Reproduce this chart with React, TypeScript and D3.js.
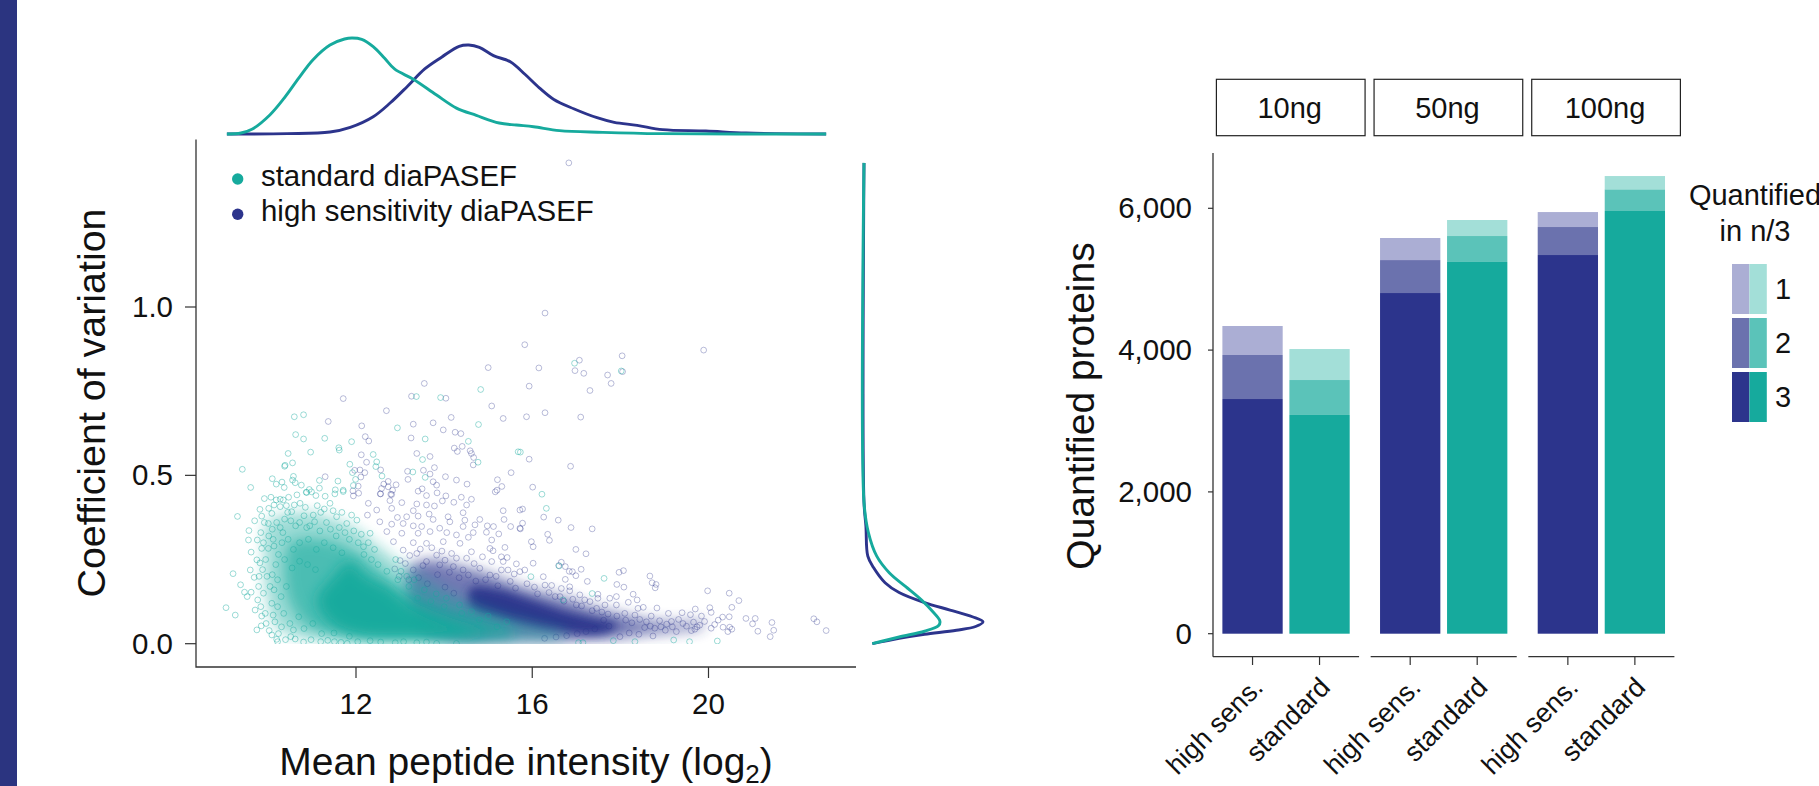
import React from "react";
import * as d3 from "d3";

// Colours
const BLUE = "#2c348c", BLUE2 = "#6b72ae", BLUE1 = "#abaed4";
const TEAL = "#16aa9d", TEAL2 = "#5bc3b9", TEAL1 = "#a3dfd8";
const FONT = "'Liberation Sans', Arial, sans-serif";

// Scatter: circles individually readable in the reference, estimated by eye as [log2 intensity, CV].
// This is a hand-read subset; the saturated core is described by the outlines further down.
const bluePoints: [number, number][] = [
[16.83,1.428],[15,.82],[13.55,.773],[11.71,.728],[13.26,.735],[14.04,.729],[15.08,.706],[12.69,.692],[14.16,.672],[15.34,.669],[11.37,.66],[12.13,.647],[13.3,.652],[13.75,.656],[13.98,.635],[14.25,.628],[14.38,.624],[13.25,.611],[12.21,.615],[12.29,.602],[14.23,.581],[14.3,.571],[14.41,.586],[14.59,.573],[14.62,.565],[14.67,.553],[14.66,.531],[12.12,.561],[13.38,.565],[13.68,.556],[12.24,.539],[13.78,.523],[13.53,.515],[13.17,.512],[13.68,.504],[15.52,.508],[12.56,.516],[12.09,.516],[11.97,.515],[12.2,.508],[12.11,.495],[11.3,.496],[14.03,.496],[13.18,.488],[14.28,.486],[15.21,.487],[14.52,.474],[13.75,.481],[13.83,.471],[15.31,.467],[15.2,.456],[15.16,.451],[12.73,.482],[12.63,.474],[12.91,.472],[12.58,.461],[12.73,.466],[13.41,.453],[13.84,.448],[12.83,.456],[12.05,.468],[11.93,.454],[12.06,.447],[12.79,.444],[12.56,.445],[14.04,.439],[13.6,.44],[14.39,.435],[11.94,.439],[13.5,.46],
[16.29,.982],[15.83,.888],[19.89,.872],[18.04,.855],[17.07,.842],[16.97,.811],[17.17,.803],[16.15,.819],[17.71,.798],[17.79,.773],[17.31,.752],[15.93,.765],[18.05,.808],[15.87,.674],[16.29,.686],[17.1,.673],[15.93,.548],[16.87,.527],[16.01,.465],
[12.55,.445],[12.81,.443],[14.62,.429],[14.22,.42],[13.96,.424],[14.51,.412],[13.78,.409],[13.6,.412],[13.38,.415],[13.04,.419],[12.77,.425],[12.47,.397],[12.28,.417],[12.81,.402],[13.3,.395],[15.34,.395],[14.43,.389],[13.66,.385],[14.09,.377],[13.41,.379],[13.15,.377],[12.94,.375],[12.26,.382],[15.36,.369],[14.81,.369],[14.47,.367],[13.75,.369],[14.13,.362],[13.07,.357],[12.54,.362],[12.81,.355],[14.7,.353],[14.98,.35],[15.51,.348],[15.12,.348],[14.43,.348],[13.3,.35],[13.49,.348],[13.9,.343],[14.96,.331],[15.24,.326],[14.66,.33],[14.55,.316],[14.28,.323],[14.06,.33],[13.68,.333],[13.41,.328],[13.04,.328],[12.7,.333],[15.08,.308],[14.36,.298],[13.98,.303],[13.6,.298],[13.3,.3],[12.85,.303],[15.38,.286],[15.04,.283],[15.11,.276],[14.62,.273],[14.17,.268],[13.83,.263],[13.38,.268],[13.07,.278],[15.3,.258],[15.43,.256],[15.08,.244],[14.87,.258],[14.51,.254],[14.28,.254],[15.34,.244],[15.64,.237],[15.72,.397],[15.72,.343],[15.45,.219],[15.3,.219],[15.59,.207],[15.72,.214],[14.81,.224],[14.43,.219],[14.21,.229],[13.9,.234],[13.6,.244],[13.3,.219],[13,.247],[15.04,.204],
[15.78,.4],[16.26,.376],[16.59,.367],[16.88,.345],[17.36,.341],[15.78,.358],[15.73,.341],[16.35,.325],[16.39,.307],[15.98,.303],[16.02,.288],[16.99,.28],[17.22,.267],[16.02,.239],[16.66,.242],[16.6,.232],[16.75,.229],[16.84,.215],[16.91,.214],[17.11,.221],[16.99,.202],[16.25,.199],[15.83,.219],[16.75,.191],[17.25,.185],[17.97,.212],[18.07,.217],[18.67,.201],[18.72,.181],[18.81,.176],[18.79,.166],[17.92,.176],[18.08,.168],[19.98,.157],[20.47,.15],[20.69,.128],[20.53,.108],[20.03,.107],[19.7,.103],[20.06,.093],[18.83,.106],[18.52,.108],[18.29,.147],[18.38,.13],[18.18,.123],[17.91,.14],[17.76,.135],[17.49,.147],[17.49,.135],[17.08,.145],[16.85,.169],[16.66,.164],[16.44,.173],[16.29,.174],[16.85,.157],[19.09,.09],[19.4,.092],[19.59,.086],[19.84,.082],[20.32,.079],[20.47,.08],[20.85,.075],[21.06,.075],[21,.059],[21.44,.063],[21.12,.037],[21.48,.04],[21.4,.021],[22.39,.074],[22.46,.065],[22.67,.039],[20.53,.043],[20.44,.036],[20.48,.049],[20.33,.049],[20.22,.07],[20.14,.057],[20.06,.046],[19.91,.066],[19.8,.055],[19.69,.043],[19.61,.039],[19.42,.06],[19.27,.036],[19.16,.066],[19.05,.058],[18.89,.068],[18.78,.046],[18.74,.023],[18.59,.065],[18.7,.082],[18.4,.105],[18.33,.085],[18.1,.09],[17.99,.021],[17.91,.115],[17.65,.115],[17.46,.105],[17.31,.125],[17.19,.13],[17,.115],[16.63,.14],
// denser fringe estimated from the crops
[13.12,.238],[13.22,.262],[13.46,.281],[13.52,.232],[13.72,.285],[13.95,.275],[14.02,.248],[14.12,.212],[14.34,.196],[14.55,.204],[14.68,.238],[14.72,.186],[14.94,.19],[15.18,.2],[15.22,.172],[15.5,.185],[15.62,.165],[15.88,.178],[16.05,.168],[16.12,.148],[16.38,.152],[16.52,.14],[16.72,.126],[16.92,.132],[17.12,.112],[17.36,.098],[17.58,.094],[17.72,.088],[17.92,.082],[18.12,.07],[18.26,.062],[18.44,.072],[18.55,.048],[18.68,.052],[18.92,.05],[19.02,.04],[19.18,.05],[19.32,.072],[19.5,.052],[19.66,.064],[19.74,.05],[17.74,.052],[17.62,.07],[17.42,.044],[17.22,.036],[17.02,.03],[16.78,.024],[16.54,.02],[16.28,.016],[18.2,.032],[18.42,.028],[13.85,.205],[13.62,.178],[14.02,.168],[14.22,.15],[13.42,.196],[13.2,.19],[12.98,.2],[12.88,.222],
];

const tealPoints: [number, number][] = [
[14.83,.755],[13.37,.734],[13.92,.731],[10.81,.68],[10.6,.674],[14.78,.651],[12.94,.641],[10.63,.621],[10.81,.608],[11.29,.61],[11.9,.6],[11.61,.582],[11.62,.575],[13.57,.608],[14.55,.601],[10.46,.565],[10.97,.569],[12.39,.562],[15.68,.57],[13.51,.547],[14.77,.539],[10.56,.537],[10.39,.53],[10.38,.527],[11.86,.533],[12.47,.54],[12.45,.526],[9.42,.518],[11.92,.508],[13.29,.51],[12.59,.498],[10.58,.497],[13.57,.494],[10.1,.49],[11.17,.485],[11.59,.483],[11.99,.488],[9.61,.464],[10.19,.474],[10.32,.48],[10.56,.486],[10.62,.478],[10.37,.464],[10.76,.471],[11.94,.47],[11.17,.462],[11.53,.457],[11.71,.456],[10.94,.458],[10.87,.45],[10.99,.451],[10.66,.442],[11.3,.438],[11.09,.44],[10.07,.435],[10.47,.435],[9.92,.431],[10.28,.429],
[16.96,.833],[18.02,.81],[15.73,.569],[16.22,.444],[16.32,.402],[17.63,.194],[17.36,.149],[15.97,.199],[16.61,.231],[19.21,.011],[19.57,.006],[20.2,.008],[18.33,.006],[17.05,.003],[17.15,.003],[17.84,.009],[16.7,.13],
[9.31,.378],[9.21,.208],[9.05,.107],[9.26,.085],[9.38,.175],[9.47,.153],[9.53,.14],[9.62,.153],[9.57,.336],[9.56,.308],[9.62,.272],[9.6,.219],[9.7,.365],[9.82,.399],[9.86,.379],[10.19,.427],[10.35,.427],[10.88,.449],[11.52,.445],[11.71,.452],[9.71,.1],[9.86,.082],[9.75,.041],[9.85,.053],[10.03,.039],[10.09,.026],[10.22,.006],[10.2,.013],[10.52,.021],[10.81,.005],[11.2,.006],[11.51,.006],[11.8,.001],[12.32,.009],[12.89,.003],[13.38,.003],[13.83,.001],[14.28,.001],[9.77,.13],[9.79,.17],[9.69,.197],[9.75,.249],[9.76,.308],[9.86,.283],[10.01,.357],[10.09,.387],[10.28,.407],[10.54,.392],[10.73,.417],[11.03,.382],[11.41,.417],[11.56,.377],[11.79,.357],[12.02,.367],[12.32,.328],[12.17,.288],[10.01,.283],[10.05,.17],[10.09,.12],[10.16,.065],[10.31,.05],[10.58,.041],
[9.92,.36],[10.02,.32],[9.95,.25],[9.98,.2],[10.12,.31],[10.2,.36],[10.34,.33],[10.45,.39],[10.63,.35],[10.82,.38],[10.95,.35],[11.2,.39],[11.33,.36],[11.62,.345],[11.85,.31],[12.05,.3],[12.35,.25],[12.5,.235],[12.7,.215],[12.95,.19],[13.2,.17],[13.4,.135],[13.7,.125],[14,.11],[14.4,.09],[14.8,.07],[15.2,.05],
// denser fringe and visible rings estimated from the crops
[10.02,.402],[10.14,.412],[10.42,.41],[10.6,.412],[10.85,.405],[11.12,.41],[11.28,.4],[11.48,.395],[11.68,.39],[11.9,.382],[9.84,.33],[9.9,.3],[9.82,.24],[9.88,.22],[9.8,.2],[9.9,.15],[9.84,.11],[9.94,.09],[9.96,.06],[10.12,.085],[10.24,.03],[10.4,.012],[10.62,.014],[10.98,.012],[11.36,.01],[11.66,.004],[12.04,.006],[12.56,.005],[13.08,.006],[13.6,.005],[10.1,.34],[10.28,.345],[10.38,.37],[10.52,.365],[10.72,.36],[10.88,.345],[11.06,.362],[11.18,.335],[11.42,.34],[11.55,.32],[11.75,.33],[11.95,.335],[12.12,.325],[12.28,.3],[12.42,.28],[12.18,.265],[10.14,.29],[10.24,.265],[10.18,.235],[10.1,.205],[10.22,.19],[10.14,.16],[10.32,.3],[10.46,.31],[10.58,.28],[10.72,.3],[10.92,.31],[11.1,.28],[11.28,.3],[11.48,.285],[11.68,.27],[10.38,.25],[10.55,.225],[10.72,.245],[10.9,.235],[11.08,.22],[10.3,.14],[10.42,.17],[10.22,.11],[10.36,.09],[10.5,.06],[10.7,.08],[10.82,.045],[11.02,.06],[11.22,.03],[11.5,.032],[11.85,.022],[12.9,.25],[13.02,.215],[13.15,.2],[13.32,.19],[13.55,.16],[13.82,.148],[14.05,.135],[14.35,.115],[14.62,.095],[15,.082],[15.42,.065],
];

// Outlines of the areas where circles merge in the reference, read by eye as [log2 intensity, CV].
const blueHazeOutline: [number, number][] = [[13.2,.225],[13.7,.25],[14.36,.23],[14.96,.21],[15.72,.172],[16.17,.155],[16.78,.135],[17.38,.108],[17.99,.088],[18.59,.07],[19.27,.062],[19.9,.062],[19.9,.05],[19.27,.036],[18.59,.028],[17.99,.016],[16.85,.008],[15.72,.008],[14.2,.01],[13.3,.06]];
const blueCoreOutline: [number, number][] = [[14.6,.165],[15.27,.16],[15.72,.142],[16.1,.125],[16.7,.098],[17.31,.078],[17.95,.056],[17.61,.03],[16.48,.04],[15.72,.06],[15.27,.075],[14.6,.11]];
const tealHazeOutline: [number, number][] = [[10.0,.36],[10.73,.39],[11.49,.37],[12.0,.34],[12.5,.29],[13.0,.24],[13.6,.19],[14.3,.14],[15.2,.09],[16.0,.062],[16.8,.03],[16.6,.012],[15,.008],[13,.008],[11.49,.012],[10.6,.022],[10.2,.05],[9.97,.14],[9.92,.26]];
const tealMidOutline: [number, number][] = [[10.5,.3],[11.2,.31],[11.9,.28],[12.5,.22],[13.2,.15],[14.2,.1],[15.4,.055],[15.6,.022],[13.5,.014],[11.7,.022],[10.9,.05],[10.45,.14]];
const tealCoreOutline: [number, number][] = [[11.49,.2],[11.86,.245],[12.24,.2],[12.77,.165],[13.3,.11],[14.21,.06],[14.96,.03],[13.3,.018],[12.02,.024],[11.41,.06],[11.11,.13]];

// Marginal densities
const topTealX = [9.07,9.39,9.65,10.05,10.37,10.7,11.02,11.41,11.74,11.91,12.13,12.39,12.65,12.88,13.3,13.82,14.28,14.73,15.25,15.64,16.03,16.62,17.6,18.9,22.67];
const topTealD = [0,.003,.015,.058,.108,.168,.223,.268,.286,.289,.285,.263,.228,.195,.165,.118,.078,.056,.033,.027,.022,.01,.005,.001,0];
const topBlueX = [9.07,10.44,11.41,11.87,12.39,12.78,13.17,13.56,13.95,14.34,14.56,14.8,15.12,15.51,15.84,16.16,16.49,16.94,17.47,17.86,18.38,18.96,19.94,20.85,22.67];
const topBlueD = [0,.001,.006,.02,.052,.094,.144,.196,.232,.264,.268,.261,.236,.217,.179,.139,.104,.076,.049,.035,.026,.013,.009,.003,0];
const sideBlueCv = [0,.016,.028,.04,.051,.065,.08,.1,.122,.152,.181,.226,.26,.35,.42,1.428];
const sideBlueD = [.07,.295,.509,.777,.938,1,.911,.723,.509,.295,.177,.08,.032,.016,0,0];
const sideTealCv = [0,.02,.037,.054,.067,.097,.13,.17,.21,.26,.33,.42,1.428];
const sideTealD = [.07,.295,.509,.627,.638,.573,.482,.348,.214,.107,.037,0,0];

// Bars
const amounts = ["10ng", "50ng", "100ng"];
const methods = ["high sens.", "standard"];
const highN3 = [3310, 4805, 5341], highN2 = [621, 465, 395], highN1 = [409, 311, 211];
const stdN3 = [3085, 5243, 5962], stdN2 = [493, 366, 306], stdN1 = [437, 226, 187];
const levels = ["n3", "n2", "n1"];
const barTicks = [0, 2000, 4000, 6000];
const legendLevels = ["1", "2", "3"];

const AXIS = "#333";

function App() {
  const x = d3.scaleLinear().domain([12, 20]).range([356, 708.5]);
  const y = d3.scaleLinear().domain([0, 1]).range([643.7, 307]);
  const topY = d3.scaleLinear().domain([0, 0.289]).range([134, 38]);
  const sideX = d3.scaleLinear().domain([0, 1]).range([864, 983]);

  const line = d3.line().curve(d3.curveCatmullRom.alpha(0.5));
  const blob = d3.line().curve(d3.curveCatmullRomClosed.alpha(0.5));
  const region = (o: [number, number][]) => blob(o.map(([a, b]) => [x(a), y(b)]) as [number, number][]) as string;
  const topPath = (xs: number[], ds: number[]) => line(xs.map((v, i) => [x(v), topY(ds[i])])) as string;
  const sidePath = (cv: number[], ds: number[]) => line(cv.map((v, i) => [sideX(ds[i]), y(v)])) as string;

  const by = d3.scaleLinear().domain([0, 1000]).range([633.7, 562.8]);
  const facet = d3.scaleBand().domain(amounts).range([1213, 1527.8 + 146.6]).paddingInner(0.0735).paddingOuter(0);
  const inner = d3.scaleBand().domain(methods).range([0, facet.bandwidth()]).paddingInner(0.1).paddingOuter(0.14);
  const rows = amounts.flatMap((a, i) => [
    { amount: a, method: methods[0], n3: highN3[i], n2: highN2[i], n1: highN1[i], cols: [BLUE, BLUE2, BLUE1] },
    { amount: a, method: methods[1], n3: stdN3[i], n2: stdN2[i], n1: stdN1[i], cols: [TEAL, TEAL2, TEAL1] },
  ]);
  const stacked = d3.stack<any>().keys(levels)(rows);

  const T = (p: any) => <text fontFamily={FONT} fill="#111" {...p} />;

  return (
    <svg width={1819} height={786} style={{ position: "absolute", left: 0, top: 0, display: "block", background: "#fff" }}>
      <defs>
        <filter id="soft" x="-15%" y="-15%" width="130%" height="130%"><feGaussianBlur stdDeviation="7" /></filter>
        <filter id="softer" x="-15%" y="-15%" width="130%" height="130%"><feGaussianBlur stdDeviation="5" /></filter>
        <clipPath id="plot"><rect x={197} y={140} width={660} height={504} /></clipPath>
      </defs>
      <rect x={0} y={0} width={17} height={786} fill="#2b3480" />

      {/* Scatter */}
      <g clipPath="url(#plot)">
        <path d={region(blueHazeOutline)} fill={BLUE} opacity={0.66} filter="url(#soft)" />
        <path d={region(blueCoreOutline)} fill={BLUE} opacity={0.95} filter="url(#softer)" />
        {bluePoints.map(([a, b], i) => <circle key={i} cx={x(a)} cy={y(b)} r={2.9} fill="none" stroke={BLUE} strokeOpacity={0.33} strokeWidth={1} />)}
        <path d={region(tealHazeOutline)} fill={TEAL} opacity={0.42} filter="url(#soft)" />
        <path d={region(tealMidOutline)} fill={TEAL} opacity={0.6} filter="url(#soft)" />
        <path d={region(tealCoreOutline)} fill={TEAL} opacity={0.95} filter="url(#soft)" />
        {tealPoints.map(([a, b], i) => <circle key={i} cx={x(a)} cy={y(b)} r={2.9} fill="none" stroke={TEAL} strokeOpacity={0.42} strokeWidth={1} />)}
      </g>

      {/* Scatter axes */}
      <path d="M196,139.5V667H856" fill="none" stroke={AXIS} strokeWidth={1.3} />
      {[0, 0.5, 1].map(v => (
        <g key={v}>
          <line x1={185} x2={196} y1={y(v)} y2={y(v)} stroke={AXIS} strokeWidth={1.2} />
          <T x={173} y={y(v) + 10} fontSize={29.5} textAnchor="end">{v.toFixed(1)}</T>
        </g>
      ))}
      {[12, 16, 20].map(v => (
        <g key={v}>
          <line x1={x(v)} x2={x(v)} y1={667} y2={678} stroke={AXIS} strokeWidth={1.2} />
          <T x={x(v)} y={714} fontSize={29.5} textAnchor="middle">{v}</T>
        </g>
      ))}
      <T transform="translate(105,403) rotate(-90)" fontSize={39.4} textAnchor="middle">Coefficient of variation</T>
      <T x={526} y={775} fontSize={39} textAnchor="middle">Mean peptide intensity (log<tspan fontSize={26} dy={8}>2</tspan><tspan dy={-8}>)</tspan></T>

      {/* Legend */}
      <circle cx={237.7} cy={179} r={5.7} fill={TEAL} />
      <circle cx={237.7} cy={214.3} r={5.7} fill={BLUE} />
      <T x={261} y={186} fontSize={29.4}>standard diaPASEF</T>
      <T x={261} y={221} fontSize={29.4}>high sensitivity diaPASEF</T>

      {/* Marginals */}
      <path d={topPath(topBlueX, topBlueD)} fill="none" stroke={BLUE} strokeWidth={2.9} />
      <path d={topPath(topTealX, topTealD)} fill="none" stroke={TEAL} strokeWidth={2.9} />
      <path d={sidePath(sideBlueCv, sideBlueD)} fill="none" stroke={BLUE} strokeWidth={2.9} />
      <path d={sidePath(sideTealCv, sideTealD)} fill="none" stroke={TEAL} strokeWidth={2.9} />

      {/* Stacked bars */}
      {stacked.map((layer, li) => layer.map((d, i) => {
        const r = rows[i];
        const bx = (facet(r.amount) as number) + (inner(r.method) as number);
        return <rect key={li + "-" + i} x={bx} y={by(d[1])} width={inner.bandwidth()} height={by(d[0]) - by(d[1])} fill={r.cols[li]} />;
      }))}

      {/* Bar axes */}
      <line x1={1213} x2={1213} y1={153} y2={656.7} stroke={AXIS} strokeWidth={1.3} />
      {barTicks.map(v => (
        <g key={v}>
          <line x1={1208} x2={1213} y1={by(v)} y2={by(v)} stroke={AXIS} strokeWidth={1.2} />
          <T x={1192} y={by(v) + 10} fontSize={29.5} textAnchor="end">{d3.format(",")(v)}</T>
        </g>
      ))}
      {amounts.map(a => {
        const f = facet(a) as number;
        return (
          <g key={a}>
            <line x1={f} x2={f + facet.bandwidth()} y1={656.7} y2={656.7} stroke={AXIS} strokeWidth={1.3} />
            <rect x={f + 3.4} y={79.3} width={facet.bandwidth() + 2.6} height={56.4} fill="#fff" stroke="#222" strokeWidth={1.2} />
            <T x={f + 3.4 + (facet.bandwidth() + 2.6) / 2 - 1} y={118} fontSize={29} textAnchor="middle">{a}</T>
            {methods.map(m => {
              const c = f + (inner(m) as number) + inner.bandwidth() / 2;
              return (
                <g key={m}>
                  <line x1={c} x2={c} y1={656.7} y2={665} stroke={AXIS} strokeWidth={1.2} />
                  <T transform={`translate(${c + 12},689) rotate(-45)`} fontSize={27} textAnchor="end">{m}</T>
                </g>
              );
            })}
          </g>
        );
      })}
      <T transform="translate(1094,406) rotate(-90)" fontSize={39} textAnchor="middle">Quantified proteins</T>

      {/* Bar legend: the title runs off the right edge in the reference too */}
      <T x={1755} y={205} fontSize={29} textAnchor="middle">Quantified</T>
      <T x={1755} y={241} fontSize={29} textAnchor="middle">in n/3</T>
      {legendLevels.map((l, i) => {
        const ly = 264 + i * 54;
        const bc = [BLUE1, BLUE2, BLUE][i], tc = [TEAL1, TEAL2, TEAL][i];
        return (
          <g key={l}>
            <rect x={1732} y={ly} width={17.4} height={50} fill={bc} />
            <rect x={1749.4} y={ly} width={17.4} height={50} fill={tc} />
            <T x={1783} y={ly + 35} fontSize={29} textAnchor="middle">{l}</T>
          </g>
        );
      })}
    </svg>
  );
}

export default App;
